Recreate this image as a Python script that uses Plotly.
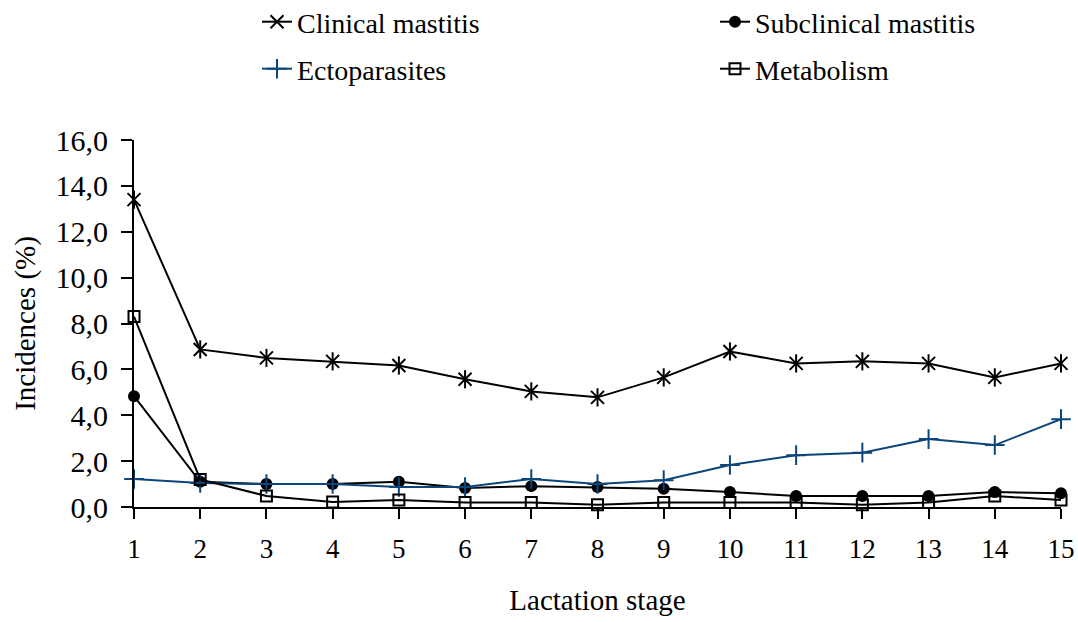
import plotly.graph_objects as go

stages = list(range(1, 16))
clinical = [13.4, 6.87, 6.5, 6.35, 6.17, 5.57, 5.04, 4.78, 5.65, 6.78, 6.26, 6.35, 6.26, 5.65, 6.26]
subclinical = [4.83, 1.1, 1.0, 1.0, 1.1, 0.83, 0.91, 0.87, 0.8, 0.65, 0.48, 0.48, 0.48, 0.65, 0.6]
ectoparasites = [1.22, 1.05, 1.0, 1.0, 0.87, 0.87, 1.22, 1.0, 1.17, 1.83, 2.26, 2.37, 2.96, 2.7, 3.83]
metabolism = [8.3, 1.2, 0.48, 0.22, 0.3, 0.2, 0.2, 0.1, 0.2, 0.2, 0.2, 0.1, 0.2, 0.48, 0.3]

BLUE = "#0b457c"
FONT = "Liberation Serif, Times New Roman, serif"

FIG_W, FIG_H = 1078, 622
PLOT_L, PLOT_T, PLOT_R, PLOT_B = 134, 140, 1061, 507
PLOT_W, PLOT_H = PLOT_R - PLOT_L, PLOT_B - PLOT_T

def px_x(p):
    return (p - PLOT_L) / PLOT_W

def px_y(p):
    return 1 + (PLOT_T - p) / PLOT_H

fig = go.Figure()
fig.add_trace(go.Scatter(x=stages, y=clinical, name="Clinical mastitis", mode="lines+markers",
                         line=dict(color="black", width=2),
                         marker=dict(symbol="x-thin-open", size=13, color="black", line=dict(width=2, color="black")),
                         legend="legend"))
fig.add_trace(go.Scatter(x=stages, y=clinical, name="Clinical mastitis", mode="markers", showlegend=False,
                         marker=dict(symbol="line-ns-open", size=13, color="black", line=dict(width=2, color="black")),
                         hoverinfo="skip"))
fig.add_trace(go.Scatter(x=stages, y=subclinical, name="Subclinical mastitis", mode="lines+markers",
                         line=dict(color="black", width=2),
                         marker=dict(symbol="circle", size=12, color="black"),
                         legend="legend2"))
fig.add_trace(go.Scatter(x=stages, y=ectoparasites, name="Ectoparasites", mode="lines+markers",
                         line=dict(color=BLUE, width=2),
                         marker=dict(symbol="cross-thin-open", size=14, color=BLUE, line=dict(width=2, color=BLUE)),
                         legend="legend3"))
fig.add_trace(go.Scatter(x=stages, y=metabolism, name="Metabolism", mode="lines+markers",
                         line=dict(color="black", width=2),
                         marker=dict(symbol="square-open", size=11, color="black", line=dict(width=2, color="black")),
                         legend="legend4"))

for tr in fig.data:
    tr.cliponaxis = False

legend_common = dict(orientation="h", xanchor="left", yanchor="middle",
                     font=dict(family=FONT, size=28, color="black"), bgcolor="rgba(0,0,0,0)",
                     itemclick=False)

fig.update_layout(
    width=FIG_W, height=FIG_H,
    margin=dict(l=PLOT_L, r=FIG_W - PLOT_R, t=PLOT_T, b=FIG_H - PLOT_B, autoexpand=False),
    paper_bgcolor="white", plot_bgcolor="white",
    separators=", ",
    font=dict(family=FONT, size=28, color="black"),
    legend=dict(x=px_x(257), y=px_y(22), **legend_common),
    legend2=dict(x=px_x(715), y=px_y(22), **legend_common),
    legend3=dict(x=px_x(257), y=px_y(69), **legend_common),
    legend4=dict(x=px_x(715), y=px_y(69), **legend_common),
    xaxis=dict(range=[1, 15], tickvals=stages, ticktext=[str(s) for s in stages],
               showline=True, linecolor="black", linewidth=2, ticks="outside", ticklen=10,
               tickwidth=2, tickcolor="black", showgrid=False, zeroline=False, automargin=False,
               tickfont=dict(family=FONT, size=27), ticklabelstandoff=7, ticklabeloverflow="allow",
               title=dict(text="Lactation stage", font=dict(family=FONT, size=29), standoff=26)),
    yaxis=dict(range=[0, 16], tickvals=[0, 2, 4, 6, 8, 10, 12, 14, 16], tickformat=".1f",
               showline=True, linecolor="black", linewidth=2, ticks="outside", ticklen=11,
               tickwidth=2, tickcolor="black", showgrid=False, zeroline=False, automargin=False,
               tickfont=dict(family=FONT, size=30), ticklabelstandoff=7, ticklabeloverflow="allow",
               title=dict(text="Incidences (%)", font=dict(family=FONT, size=29), standoff=11)),
)

fig.write_html("out.html", config={"displayModeBar": False},
               post_script="document.body.style.margin='0';document.body.style.overflow='hidden';")
